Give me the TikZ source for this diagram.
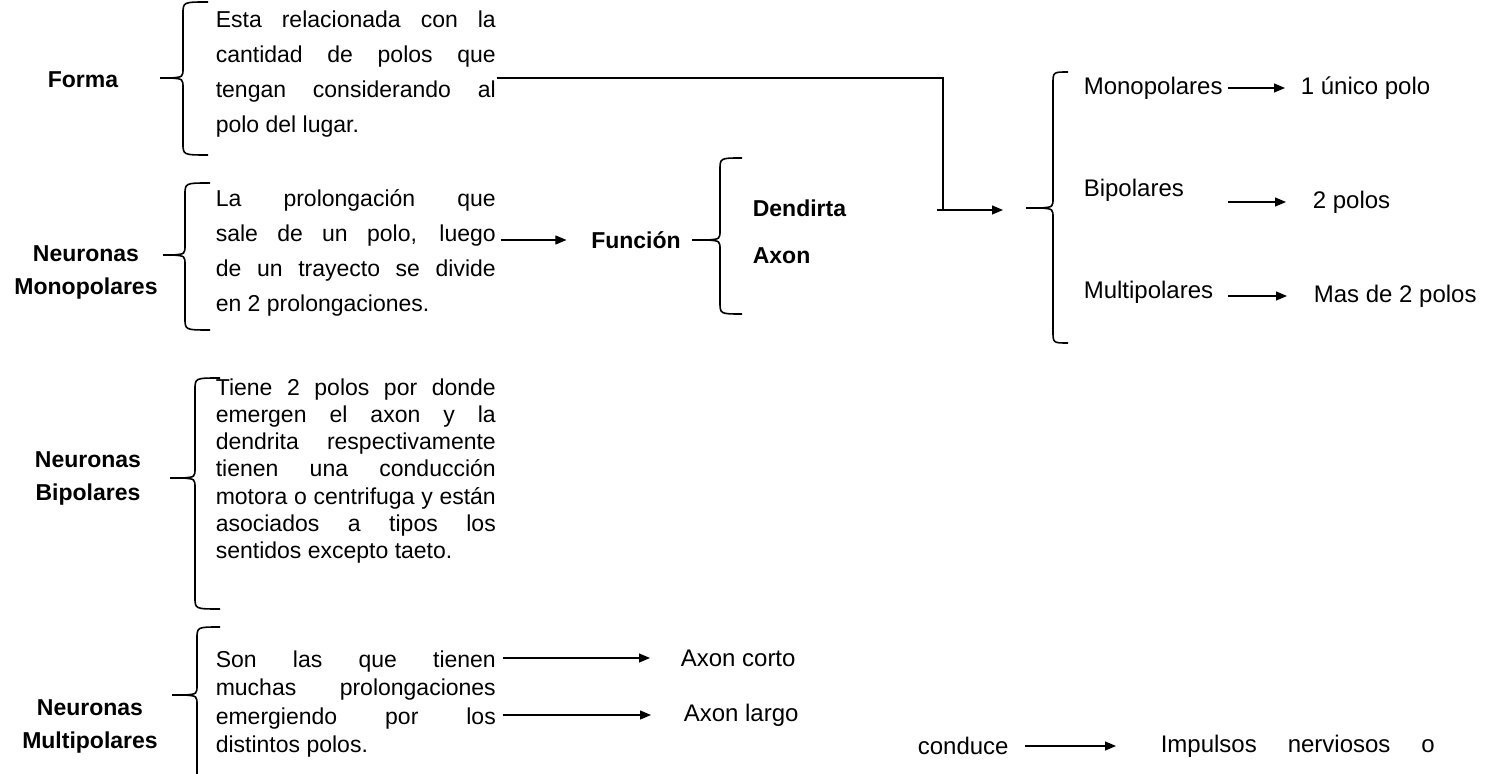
\documentclass[tikz,border=0pt]{standalone}
\usepackage{fontspec}
\setmainfont{Liberation Sans}
\usetikzlibrary{arrows.meta}
\hyphenpenalty=10000
\tolerance=10000

% llave: spine x, top y, tip y, bottom y, hook x, tip x
\newcommand{\llave}[6]{%
  \draw (#5,#2) .. controls (#1,#2) .. (#1,#2+12)
    -- (#1,#3-10) .. controls (#1,#3-1) .. (#1-12,#3)
    .. controls (#1,#3+1) .. (#1,#3+10)
    -- (#1,#4-12) .. controls (#1,#4) .. (#5,#4);
  \draw (#1-12,#3) -- (#6,#3);}

\begin{document}
\begin{tikzpicture}[x=0.5pt,y=-0.5pt,line width=0.8pt,
    lbl/.style={font=\bfseries\fontsize{11.5}{16.5}\selectfont,align=center,inner sep=0pt},
    cuerpo/.style={font=\fontsize{11.5}{#1}\selectfont,
      text width=140pt,align=justify,inner sep=0pt,anchor=west},
    txt/.style={font=\fontsize{12}{14}\selectfont,inner sep=0pt,anchor=west},
    flecha/.style={-{Triangle[length=5.5pt,width=4.5pt]},line width=0.6pt}]
  \useasboundingbox (0,0) rectangle (1487,774);
  \clip (0,0) rectangle (1487,774);

  % left column
  \node[lbl] (forma) at (83,80) {Forma};
  \node[lbl] (nmono) at (86,272) {Neuronas\\Monopolares};
  \node[lbl] (nbi) at (88,478) {Neuronas\\Bipolares};
  \node[lbl] (nmulti) at (90,726) {Neuronas\\Multipolares};

  \llave{183}{2}{78}{155}{208}{160}
  \llave{185}{183}{255}{330}{210}{163}
  \llave{195}{378}{478}{609}{220}{170}
  \llave{197}{627}{695}{830}{220}{172}

  \node[cuerpo=17.5] (t1) at (215,74) {Esta relacionada con la\linebreak
    cantidad de polos que\linebreak tengan considerando al\linebreak polo del lugar.};
  \node[cuerpo=17.5] (t2) at (215,253) {La prolongación que\linebreak
    sale de un polo, luego\linebreak de un trayecto se divide\linebreak en 2 prolongaciones.};
  \node[cuerpo=13.6] (t3) at (215,471) {Tiene 2 polos por donde\linebreak
    emergen el axon y la\linebreak dendrita respectivamente\linebreak
    tienen una conducción\linebreak motora o centrifuga y están\linebreak
    asociados a tipos los\linebreak sentidos excepto taeto.};
  \node[cuerpo=14.3] (t4) at (215,704) {Son las que tienen\linebreak
    muchas prolongaciones\linebreak emergiendo por los\linebreak distintos polos.};

  % funcion
  \node[lbl] (funcion) at (636,240) {Función};
  \llave{720}{158}{240}{314}{742}{692}
  \node[lbl,anchor=west] (dendrita) at (752,208) {Dendirta};
  \node[lbl,anchor=west] (axon) at (752,256) {Axon};
  \draw[flecha,shorten <=2pt,shorten >=12pt] (t2.east |- funcion.west) -- (funcion.west);

  % forma -> tipos
  \coordinate (codo) at (943,78);
  \coordinate (entrada) at (1003,210);
  \draw[line width=0.6pt] (t1.east |- codo) -- (codo) -- (codo |- entrada);
  \draw[flecha] ([xshift=-3pt]codo |- entrada) -- (entrada);

  % tipos
  \llave{1053}{72}{208}{343}{1068}{1026}
  \node[txt] (rmono) at (1083,88) {Monopolares};
  \node[txt] (uno) at (1300,88) {1 único polo};
  \node[txt] (rbi) at (1083,190) {Bipolares};
  \node[txt] (dos) at (1312,202) {2 polos};
  \node[txt] (rmulti) at (1083,292) {Multipolares};
  \node[txt] (mas) at (1313,296) {Mas de 2 polos};
  \draw[flecha,shorten <=2.5pt,shorten >=7.5pt] (rmono.east |- uno.west) -- (uno.west);
  \draw[flecha,shorten <=2.5pt,shorten >=13pt] (rmono.east |- dos.west) -- (dos.west);
  \draw[flecha,shorten <=2.5pt,shorten >=13pt] (rmono.east |- mas.west) -- (mas.west);

  % axones
  \node[txt] (corto) at (680,658) {Axon corto};
  \node[txt] (largo) at (683,715) {Axon largo};
  \draw[flecha,shorten <=3pt,shorten >=15pt] (t4.east |- corto.west) -- (corto.west);
  \draw[flecha,shorten <=3pt,shorten >=16pt] (t4.east |- largo.west) -- (largo.west);

  % conduce
  \node[txt] (conduce) at (917,746) {conduce};
  \node[txt,text width=137pt] (impulsos) at (1160,746) {Impulsos\hfill nerviosos\hfill o};
  \draw[flecha,shorten <=8pt,shorten >=22pt] (conduce.east) -- (impulsos.west);
\end{tikzpicture}
\end{document}
